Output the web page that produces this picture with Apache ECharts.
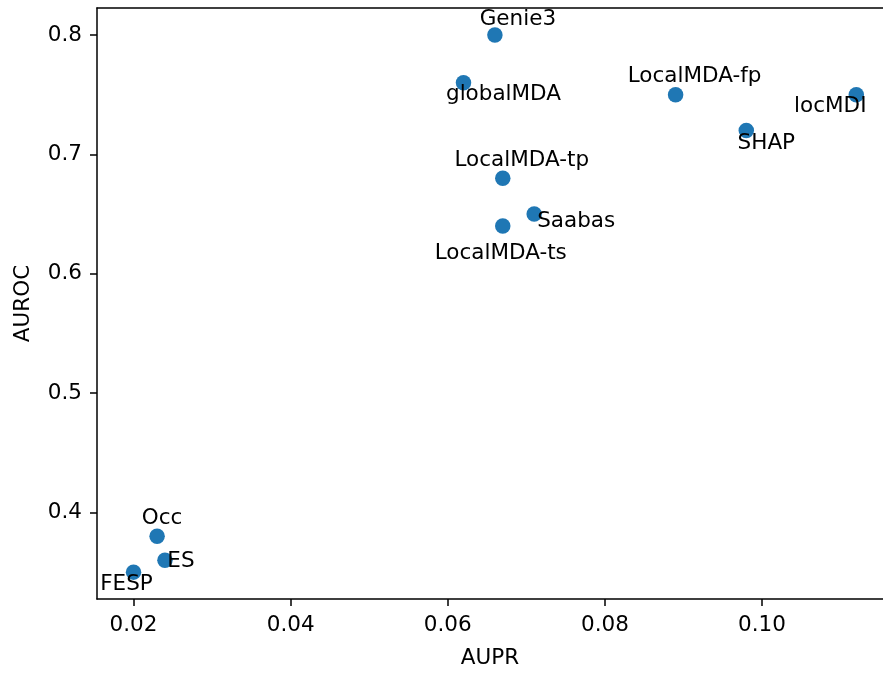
<!DOCTYPE html>
<html>
<head>
<meta charset="utf-8">
<script src="https://cdn.jsdelivr.net/npm/echarts@6/dist/echarts.min.js"></script>
<style>
html,body{margin:0;padding:0;background:#fff;}
#chart{width:883px;height:673px;}
</style>
</head>
<body>
<div id="chart"></div>
<script>
// Data
const methods = ['Genie3','globalMDA','LocalMDA-fp','locMDI','SHAP','LocalMDA-tp','Saabas','LocalMDA-ts','Occ','ES','FESP'];
const aupr    = [0.066, 0.062, 0.089, 0.112, 0.098, 0.067, 0.071, 0.067, 0.023, 0.024, 0.020];
const auroc   = [0.80, 0.76, 0.75, 0.75, 0.72, 0.68, 0.65, 0.64, 0.38, 0.36, 0.35];
const xTicks  = [0.02, 0.04, 0.06, 0.08, 0.10];
const yTicks  = [0.4, 0.5, 0.6, 0.7, 0.8];

// Label placement (pixel offsets from each point, styling only)
const labelOffsets = [[23,-15.5],[40,11.5],[19,-18.5],[-26,11.5],[20,12.5],[19,-17.5],[42,7.5],[-2,27.5],[5,-17.5],[16,1.5],[-7,12.5]];

const FONT = 'DejaVu Sans';
const FS = 21.5;
const chart = echarts.init(document.getElementById('chart'), null, {renderer:'canvas'});

const data = methods.map((m,i) => ({
  value: [aupr[i], auroc[i], m],
  label: { offset: labelOffsets[i] }
}));

chart.setOption({
  animation: false,
  backgroundColor: '#fff',
  grid: { left: 97, right: 0, top: 8, bottom: 74, outerBoundsMode: 'none', containLabel: false },
  xAxis: [{
    type: 'value',
    min: 0.01535, max: 0.1154,
    name: 'AUPR', nameLocation: 'middle', nameGap: 48,
    nameTextStyle: { fontFamily: FONT, fontSize: FS, color: '#000' },
    axisLine: { show: true, lineStyle: { color: '#000', width: 1.5 } },
    axisTick: { show: true, length: 7, inside: false, customValues: xTicks, lineStyle: { color: '#000', width: 1.5 } },
    axisLabel: { show: true, margin: 15, customValues: xTicks, formatter: v => v.toFixed(2), fontFamily: FONT, fontSize: FS, color: '#000' },
    splitLine: { show: false }
  },{
    type: 'value', position: 'top',
    min: 0.01535, max: 0.1154,
    axisLine: { show: true, onZero: false, lineStyle: { color: '#000', width: 1.5 } },
    axisTick: { show: false }, axisLabel: { show: false }, splitLine: { show: false }
  }],
  yAxis: {
    type: 'value',
    min: 0.3275, max: 0.8226,
    name: 'AUROC', nameLocation: 'middle', nameGap: 63,
    nameTextStyle: { fontFamily: FONT, fontSize: FS, color: '#000' },
    axisLine: { show: true, lineStyle: { color: '#000', width: 1.5 } },
    axisTick: { show: true, length: 7, inside: false, customValues: yTicks, lineStyle: { color: '#000', width: 1.5 } },
    axisLabel: { show: true, margin: 15, customValues: yTicks, formatter: v => v.toFixed(1), fontFamily: FONT, fontSize: FS, color: '#000' },
    splitLine: { show: false }
  },
  series: [{
    type: 'scatter',
    xAxisIndex: 0,
    symbol: 'circle',
    symbolSize: 15.5,
    itemStyle: { color: '#1f77b4', opacity: 1 },
    label: {
      show: true, position: 'inside', align: 'center', verticalAlign: 'middle',
      formatter: p => p.value[2],
      fontFamily: FONT, fontSize: FS, color: '#000'
    },
    emphasis: { disabled: true },
    data: data,
    z: 3
  }]
});
</script>
</body>
</html>
